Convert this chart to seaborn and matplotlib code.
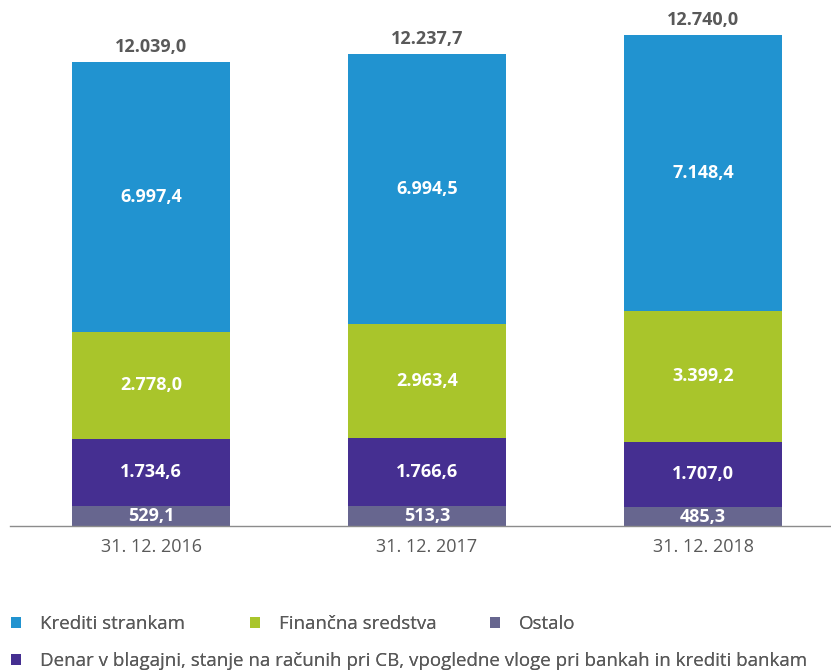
import matplotlib
matplotlib.use("Agg")
import matplotlib.pyplot as plt
from matplotlib.patches import Patch
import seaborn as sns
import numpy as np

# data (bottom to top of each stack)
dates = ["31. 12. 2016", "31. 12. 2017", "31. 12. 2018"]
ostalo = [529.1, 513.3, 485.3]
denar = [1734.6, 1766.6, 1707.0]
financna = [2778.0, 2963.4, 3399.2]
krediti = [6997.4, 6994.5, 7148.4]
totals = [12039.0, 12237.7, 12740.0]

series_names = ["Ostalo",
                "Denar v blagajni, stanje na računih pri CB, vpogledne vloge pri bankah in krediti bankam",
                "Finančna sredstva", "Krediti strankam"]
series_colors = ["#67668F", "#452F91", "#A9C52B", "#2193D0"]


def fmt(v):
    s = f"{v:,.1f}"
    return s.replace(",", "X").replace(".", ",").replace("X", ".")


sns.set_theme(style="white")
plt.rcParams['font.family'] = ['Open Sans', 'DejaVu Sans']

fig = plt.figure(figsize=(8.31, 6.71), dpi=100)
ax = fig.add_axes([10 / 831, (671 - 526) / 671, 821 / 831, 516 / 671])

bottom = np.zeros(len(dates))
for vals, col in zip([ostalo, denar, financna, krediti], series_colors):
    sns.barplot(x=dates, y=vals, bottom=bottom, color=col, saturation=1,
                width=0.572, ax=ax, linewidth=0)
    for i, v in enumerate(vals):
        ax.text(i, bottom[i] + v / 2, fmt(v), ha="center", va="center",
                color="white", fontsize=13, fontweight="bold")
    bottom += np.array(vals)

for i, t in enumerate(totals):
    ax.annotate(fmt(t), (i, bottom[i]), xytext=(0, 4.5), textcoords="offset points",
                ha="center", va="bottom", color="#595959", fontsize=13, fontweight="bold")

ax.set_xlim(-0.511, 2.464)
ax.set_ylim(0, 13389)
ax.set_yticks([])
ax.set_ylabel("")
for sp in ["top", "right", "left"]:
    ax.spines[sp].set_visible(False)
ax.spines["bottom"].set_color("#8c8c8c")
ax.spines["bottom"].set_linewidth(1)
ax.tick_params(axis="x", length=0, labelsize=13, colors="#595959", pad=8.5)

# legend: one small legend per entry, placed like the original
leg_kw = dict(loc="center left", frameon=False, fontsize=13.5, labelcolor="#595959",
              handlelength=0.55, handleheight=0.55, handletextpad=1.0,
              borderaxespad=0, borderpad=0)
leg_items = [(3, 11, 624), (2, 250, 624), (0, 490, 624), (1, 11, 661)]
for k, px, py in leg_items:
    lg = fig.legend([Patch(facecolor=series_colors[k], edgecolor="none")], [series_names[k]],
                    bbox_to_anchor=(px / 831, 1 - py / 671), **leg_kw)
    fig.add_artist(lg)

fig.savefig("out.png", dpi=100)
